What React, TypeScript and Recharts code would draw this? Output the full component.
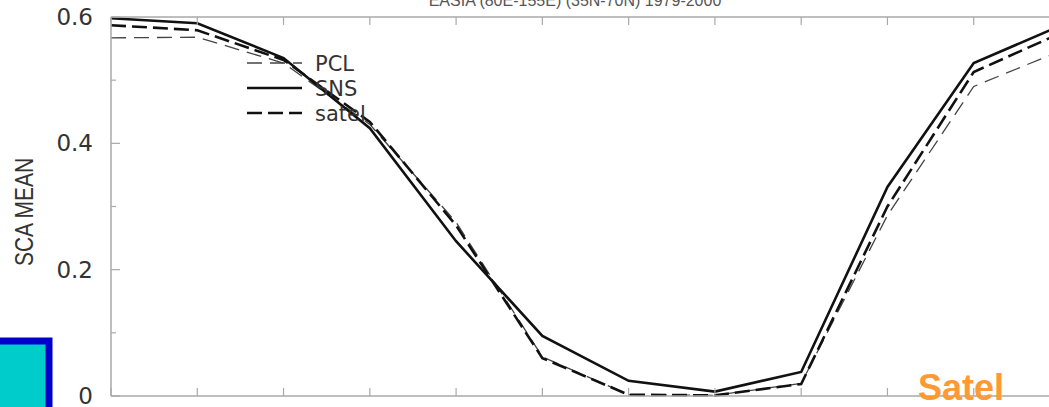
import React from 'react';
import { LineChart, Line, XAxis, YAxis, Legend } from 'recharts';

const months = ['Jan', 'Feb', 'Mar', 'Apr', 'May', 'Jun', 'Jul', 'Aug', 'Sep', 'Oct', 'Nov', 'Dec'];
const pclValues = [0.567, 0.568, 0.527, 0.43, 0.275, 0.062, 0.002, 0.001, 0.02, 0.286, 0.49, 0.546];
const snsValues = [0.598, 0.59, 0.535, 0.424, 0.245, 0.095, 0.024, 0.007, 0.038, 0.331, 0.527, 0.586];
const satelValues = [0.587, 0.579, 0.532, 0.434, 0.27, 0.06, 0.002, 0.001, 0.019, 0.3, 0.513, 0.574];
const yTicks = [0, 0.1, 0.2, 0.3, 0.4, 0.5, 0.6];
const titleText = 'EASIA (80E-155E) (35N-70N)  1979-2000';
const yLabel = 'SCA MEAN';
const stampText = 'Satel';

const data = months.map((m, i) => ({ month: m, PCL: pclValues[i], SNS: snsValues[i], satel: satelValues[i] }));

const AXIS = '#a9a9a9';
const TICK_FONT = 'DejaVu Sans';

const YTick = (props: any) => {
  const { x, y, payload } = props;
  const v = payload.value as number;
  const major = Math.round(v * 10) % 2 === 0;
  return (
    <g>
      <line x1={x} x2={x + (major ? 9 : 5)} y1={y} y2={y} stroke={AXIS} strokeWidth={1.2} />
      {major && (
        <text x={x - 18} y={y} dy={8} textAnchor="end" fontFamily={TICK_FONT} fontSize={23} fill="#333">
          {v === 0 ? '0' : v.toFixed(1)}
        </text>
      )}
    </g>
  );
};

const BottomTick = (props: any) => {
  const { x, y } = props;
  return <line x1={x} x2={x} y1={y} y2={y - 8} stroke={AXIS} strokeWidth={1.2} />;
};

const TopTick = (props: any) => {
  const { x, y } = props;
  return <line x1={x} x2={x} y1={y} y2={y + 8} stroke={AXIS} strokeWidth={1.2} />;
};

const series = [
  { key: 'PCL', stroke: '#444', width: 1.3, dash: '15 8' },
  { key: 'SNS', stroke: '#111', width: 2.6, dash: undefined as string | undefined },
  { key: 'satel', stroke: '#111', width: 2.6, dash: '15 6' },
];

const LegendContent = () => (
  <svg width={140} height={80}>
    {series.map((s, i) => {
      const cy = 18 + i * 25;
      return (
        <g key={s.key}>
          <line x1={7} x2={62} y1={cy} y2={cy} stroke={s.stroke} strokeWidth={s.width} strokeDasharray={s.dash} />
          <text x={75} y={cy + 7.5} fontFamily={TICK_FONT} fontSize={21} fill="#333">
            {s.key}
          </text>
        </g>
      );
    })}
  </svg>
);

export default function App() {
  return (
    <div style={{ position: 'absolute', left: 0, top: 0, width: 1049, height: 407, overflow: 'hidden', background: '#fff' }}>
      <div style={{ position: 'absolute', left: 0, top: -20 }}>
        <LineChart width={1100} height={460} data={data} margin={{ top: 0, right: 40, bottom: 0, left: 0 }}>
          <XAxis
            xAxisId="bottom"
            dataKey="month"
            orientation="bottom"
            height={44}
            interval={0}
            tickSize={0}
            tickMargin={0}
            tickLine={false}
            tick={<BottomTick />}
            axisLine={{ stroke: AXIS, strokeWidth: 1.5 }}
          />
          <XAxis
            xAxisId="top"
            dataKey="month"
            orientation="top"
            height={37}
            interval={0}
            tickSize={0}
            tickMargin={0}
            tickLine={false}
            tick={<TopTick />}
            axisLine={{ stroke: AXIS, strokeWidth: 1.5 }}
          />
          <YAxis
            yAxisId="y"
            domain={[0, 0.6]}
            ticks={yTicks}
            interval={0}
            width={111}
            tickSize={0}
            tickMargin={0}
            tickLine={false}
            tick={<YTick />}
            axisLine={{ stroke: AXIS, strokeWidth: 1.5 }}
          />
          <Legend
            layout="horizontal"
            verticalAlign="middle"
            align="center"
            wrapperStyle={{ position: 'absolute', left: 240, top: 65, width: 140, height: 80 }}
            content={<LegendContent />}
          />
          {series.map((s) => (
            <Line
              key={s.key}
              xAxisId="bottom"
              yAxisId="y"
              type="linear"
              dataKey={s.key}
              stroke={s.stroke}
              strokeWidth={s.width}
              strokeDasharray={s.dash}
              dot={false}
              activeDot={false}
              isAnimationActive={false}
            />
          ))}
        </LineChart>
      </div>
      <svg
        width={1049}
        height={407}
        style={{ position: 'absolute', left: 0, top: 0, pointerEvents: 'none' }}
      >
        <text x={575} y={6} textAnchor="middle" fontFamily="Liberation Sans" fontSize={16} fill="#555">
          {titleText}
        </text>
        <text
          x={33}
          y={212}
          transform="rotate(-90, 33, 212)"
          textAnchor="middle"
          fontFamily="Liberation Sans"
          fontSize={25}
          textLength={108}
          lengthAdjust="spacingAndGlyphs"
          fill="#333"
        >
          {yLabel}
        </text>
        <rect x={-10} y={341} width={59} height={90} fill="#00CCCC" stroke="#0000CC" strokeWidth={7} />
        <text x={918} y={400} fontFamily="Liberation Sans" fontWeight="bold" fontSize={36} fill="#FF9933">
          {stampText}
        </text>
      </svg>
    </div>
  );
}
